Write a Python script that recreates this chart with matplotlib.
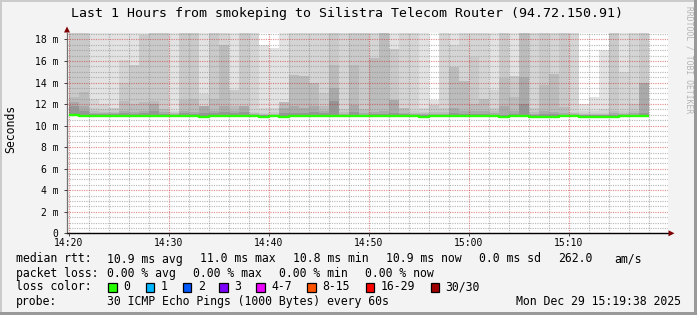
import matplotlib
matplotlib.use('Agg')
import matplotlib.pyplot as plt
from matplotlib.patches import Rectangle, Polygon
import numpy as np

# ---------------- data ----------------
# minutes after 14:20 at which each 1-minute smoke column starts
minute_offsets = list(range(58))

# median rtt per minute (ms)
median_rtt = [11.0, 10.9, 10.9, 10.9, 10.9, 10.9, 10.9, 10.9, 10.9, 10.9,
              10.9, 10.9, 10.9, 10.8, 10.9, 10.9, 10.9, 10.9, 10.9, 10.8,
              10.9, 10.8, 10.9, 10.9, 10.9, 10.9, 10.9, 10.9, 10.9, 10.9,
              10.9, 10.9, 10.9, 10.9, 10.9, 10.8, 10.9, 10.9, 10.9, 10.9,
              10.9, 10.9, 10.9, 10.8, 10.9, 10.9, 10.8, 10.8, 10.8, 10.9,
              10.9, 10.8, 10.8, 10.8, 10.8, 10.9, 10.9, 10.9]

# upper ping levels of the smoke bands (ms), outermost (lightest) first
smoke_band_1 = [19, 19, 19, 19, 19, 19, 19, 19, 19, 19, 19, 19, 19, 19, 19, 19, 19, 19, 19, 17.5,
                17.2, 19, 19, 19, 19, 19, 19, 19, 19, 19, 19, 19, 19, 19, 19, 19, 12.4, 19, 19, 19,
                19, 19, 19, 19, 19, 19, 19, 19, 19, 19, 19, 12.0, 12.7, 17.0, 19, 19, 19, 19]
smoke_band_2 = [19, 19, 12.5, 12.0, 11.6, 16.1, 15.6, 18.4, 19, 19, 11.4, 19, 19, 12.9, 19, 19, 13.3, 19, 19, 11.6,
                11.6, 12.2, 19, 19, 19, 19, 19, 19, 19, 19, 19, 19, 17.1, 19, 19, 11.6, 11.9, 19, 17.5, 19,
                19, 19, 13.3, 19, 14.6, 19, 19, 19, 19, 19, 19, 11.4, 11.4, 11.5, 19, 15.0, 19, 19]
smoke_band_3 = [19, 19, 11.6, 11.5, 11.6, 14.0, 15.6, 18.4, 19, 19, 11.3, 19, 19, 11.8, 19, 17.5, 13.3, 19, 11.3, 11.2,
                11.3, 12.2, 14.7, 14.6, 14.0, 13.0, 19, 11.5, 19, 19, 16.3, 19, 17.1, 11.6, 11.4, 11.3, 11.9, 11.6, 15.4, 14.1,
                16.4, 12.5, 11.6, 19, 14.6, 19, 11.6, 19, 14.8, 19, 11.3, 11.2, 11.2, 11.2, 19, 11.4, 12.0, 19]
smoke_band_4 = [12.7, 13.1, 11.4, 11.3, 11.3, 12.3, 12.0, 12.2, 12.3, 11.5, 11.2, 12.4, 12.5, 11.8, 12.5, 17.5, 11.8, 11.8, 11.2, 11.1,
                11.1, 12.2, 14.7, 14.6, 14.0, 11.8, 15.6, 11.3, 15.6, 11.5, 16.3, 19, 12.4, 11.6, 11.2, 11.2, 11.3, 11.3, 15.4, 14.1,
                12.0, 12.5, 11.4, 14.4, 12.7, 19, 11.3, 13.8, 14.8, 11.7, 11.2, 11.1, 11.1, 11.1, 11.4, 11.2, 11.4, 14.0]
smoke_band_5 = [12.2, 11.8, 11.2, 11.2, 11.2, 11.4, 11.3, 11.4, 12.0, 11.3, 11.1, 11.4, 11.3, 11.8, 11.4, 11.8, 11.4, 11.8, 11.1, 11.0,
                11.0, 11.6, 11.8, 11.6, 11.8, 11.4, 13.5, 11.1, 11.9, 11.2, 11.3, 11.4, 12.4, 11.2, 11.1, 11.1, 11.1, 11.1, 11.6, 11.4,
                11.4, 11.4, 11.2, 11.8, 11.4, 14.5, 11.1, 11.4, 11.3, 11.2, 11.1, 11.0, 11.0, 11.0, 11.2, 11.1, 11.2, 14.0]
smoke_band_6 = [11.8, 11.4, 11.1, 11.1, 11.1, 11.2, 11.1, 11.2, 11.4, 11.1, 11.0, 11.2, 11.1, 11.2, 11.2, 11.3, 11.2, 11.3, 11.0, 10.95,
                10.95, 11.2, 11.2, 11.2, 11.3, 11.2, 12.3, 11.0, 11.3, 11.0, 11.1, 11.1, 11.2, 11.1, 11.0, 11.0, 11.0, 11.0, 11.2, 11.1,
                11.1, 11.1, 11.0, 11.0, 11.1, 12.0, 11.0, 11.1, 11.1, 11.0, 11.0, 10.95, 10.95, 10.95, 11.0, 11.0, 11.0, 11.2]

x_tick_labels = ['14:20', '14:30', '14:40', '14:50', '15:00', '15:10']
y_tick_values = [0, 2, 4, 6, 8, 10, 12, 14, 16, 18]

loss_labels = ['0', '1', '2', '3', '4-7', '8-15', '16-29', '30/30']
loss_colors = ['#26ff00', '#00b8ff', '#0059ff', '#7e00ff', '#ee00ff', '#ff5500', '#ff0000', '#a10000']

# ---------------- figure ----------------
W, H = 697, 315
fig = plt.figure(figsize=(W / 100, H / 100), dpi=100)
fig.patch.set_facecolor('#f3f3f3')
MONO = 'DejaVu Sans Mono'


def fx(px):
    return px / W


def fy(py):
    return 1 - py / H


AX_L, AX_R, AX_T, AX_B = 67, 668, 33, 233.3
ax = fig.add_axes([fx(AX_L), fy(AX_B), (AX_R - AX_L) / W, (AX_B - AX_T) / H])
ax.set_facecolor('white')
ax.set_xlim(-0.2, 59.9)
ax.set_ylim(0, 18.6)

shades = ['#e3e3e3', '#d5d5d5', '#cacaca', '#bcbcbc', '#aaaaaa', '#969696']
bands = [smoke_band_1, smoke_band_2, smoke_band_3, smoke_band_4, smoke_band_5, smoke_band_6]
x = np.array(minute_offsets, dtype=float)
bottom = np.array(median_rtt) - 0.05
for band, col in zip(bands, shades):
    top = np.array(band, dtype=float)
    ax.bar(x, top - bottom, bottom=bottom, width=1.0, align='edge', color=col,
           linewidth=0, edgecolor='none', zorder=1)

# median line (steps)
xs = np.append(x, x[-1] + 1)
ys = np.append(median_rtt, median_rtt[-1])
ax.step(xs, ys, where='post', color='#26ff00', lw=1.7, zorder=4, solid_capstyle='butt')

# grid
ax.set_xticks([0, 10, 20, 30, 40, 50])
ax.set_xticklabels(x_tick_labels, fontsize=7, family=MONO)
ax.set_xticks(np.arange(0, 60, 2), minor=True)
ax.set_yticks(y_tick_values)
ax.set_yticklabels(['0' if v == 0 else f'{v} m' for v in y_tick_values], fontsize=7, family=MONO)
ax.set_yticks(np.arange(0, 18.6, 0.5), minor=True)
ax.set_axisbelow(False)
ax.grid(which='major', color='#c82020', alpha=0.5, linestyle=(0, (1, 1)), lw=0.85)
ax.grid(which='minor', color='#8c8c8c', alpha=0.6, linestyle=(0, (1, 1)), lw=0.85)
ax.tick_params(which='major', length=2, width=0.72, color='#444444', pad=1.5)
ax.tick_params(axis='y', which='major', pad=4.0)
ax.tick_params(which='minor', length=0)

for s in ['top', 'right']:
    ax.spines[s].set_visible(False)
ax.spines['left'].set_color('#707070')
ax.spines['left'].set_linewidth(0.9)
ax.spines['bottom'].set_color('black')
ax.spines['bottom'].set_linewidth(1.0)

# arrows
arrow_col = '#7f0000'
fig.add_artist(Polygon([(fx(64), fy(32.5)), (fx(70), fy(32.5)), (fx(67), fy(26.5))],
                       closed=True, transform=fig.transFigure, color=arrow_col, lw=0))
fig.add_artist(Polygon([(fx(668.5), fy(230.3)), (fx(668.5), fy(236.3)), (fx(674.5), fy(233.3))],
                       closed=True, transform=fig.transFigure, color=arrow_col, lw=0))

# frame shades
fig.add_artist(Rectangle((0, fy(2)), 1, 2 / H, transform=fig.transFigure, color='#cbcbcb', lw=0))
fig.add_artist(Rectangle((0, 0), 2 / W, 1, transform=fig.transFigure, color='#cbcbcb', lw=0))
fig.add_artist(Rectangle((0, 0), 1, 3 / H, transform=fig.transFigure, color='#999999', lw=0))
fig.add_artist(Rectangle((1 - 3 / W, 0), 3 / W, 1, transform=fig.transFigure, color='#999999', lw=0))


def T(xp, yp, s, size=8.3, ha='left', **kw):
    fig.text(fx(xp), fy(yp), s, fontsize=size, family=MONO, ha=ha, va='center', **kw)


T(347, 13, 'Last 1 Hours from smokeping to Silistra Telecom Router (94.72.150.91)', size=9.5, ha='center')
T(11, 128.5, 'Seconds', ha='center', rotation=90)
T(688.5, 60, 'RRDTOOL / TOBI OETIKER', size=5.8, ha='center', rotation=270, color='#b4b4b4')

# legend lines
y1, y2, y3, y4 = 259, 273.3, 286.7, 301.3
for xp, s in [(16, 'median rtt:'), (107.3, '10.9 ms avg'), (200.3, '11.0 ms max'),
              (293.3, '10.8 ms min'), (386, '10.9 ms now'), (479.3, '0.0 ms sd'),
              (558.3, '262.0'), (614, 'am/s')]:
    T(xp, y1, s)
for xp, s in [(16, 'packet loss:'), (107.3, '0.00 % avg'), (193.3, '0.00 % max'),
              (279.3, '0.00 % min'), (365, '0.00 % now')]:
    T(xp, y2, s)
T(16, y3, 'loss color:')
box_x = [108.3, 145.7, 182.7, 219.3, 256, 307.3, 365.7, 430.7]
for bx, lab, col in zip(box_x, loss_labels, loss_colors):
    fig.add_artist(Rectangle((fx(bx), fy(291.5)), 8.5 / W, 8.5 / H, transform=fig.transFigure,
                             facecolor=col, edgecolor='black', lw=0.9))
    T(bx + 15, y3, lab)
T(16, y4, 'probe:')
T(107.3, y4, '30 ICMP Echo Pings (1000 Bytes) every 60s')
T(680.5, y4, 'Mon Dec 29 15:19:38 2025', ha='right')

fig.savefig('out.png', dpi=100, facecolor=fig.get_facecolor())
